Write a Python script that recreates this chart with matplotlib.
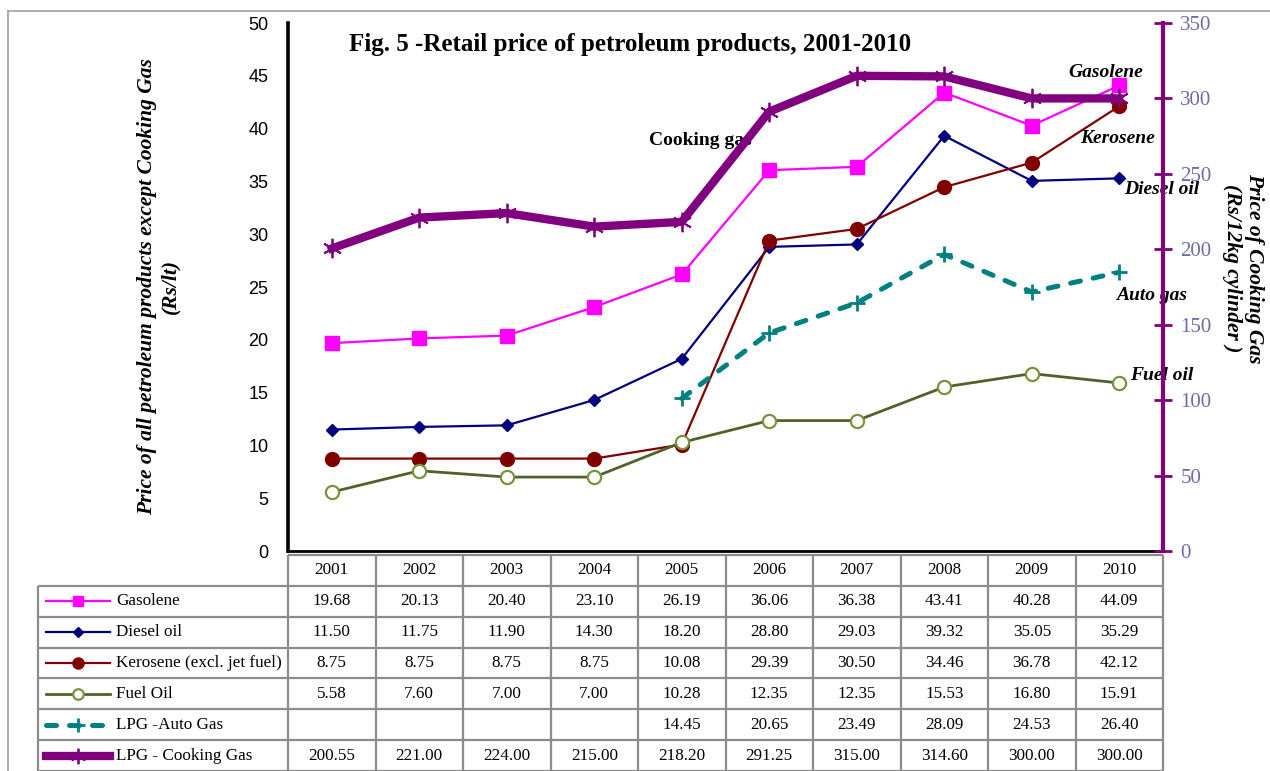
from matplotlib import pyplot as plt
from matplotlib.lines import Line2D
import numpy as np


# Retail prices 2001-2010 (Rs/lt, cooking gas in Rs/12kg cylinder)
years = ["2001", "2002", "2003", "2004", "2005",
         "2006", "2007", "2008", "2009", "2010"]
gasolene = [19.68, 20.13, 20.40, 23.10, 26.19, 36.06, 36.38, 43.41, 40.28, 44.09]
diesel = [11.50, 11.75, 11.90, 14.30, 18.20, 28.80, 29.03, 39.32, 35.05, 35.29]
kerosene = [8.75, 8.75, 8.75, 8.75, 10.08, 29.39, 30.50, 34.46, 36.78, 42.12]
fuel_oil = [5.58, 7.60, 7.00, 7.00, 10.28, 12.35, 12.35, 15.53, 16.80, 15.91]
auto_gas = [None, None, None, None, 14.45, 20.65, 23.49, 28.09, 24.53, 26.40]
cooking_gas = [200.55, 221.00, 224.00, 215.00, 218.20,
               291.25, 315.00, 314.60, 300.00, 300.00]

series_names = ["Gasolene", "Diesel oil", "Kerosene (excl. jet fuel)",
                "Fuel Oil", "LPG -Auto Gas", "LPG - Cooking Gas"]

SERIF = "Liberation Serif"
SANS = "Liberation Sans"
W, H = 1270, 771

# line styles per series
styles = [
    dict(color="#FF00FF", lw=1.6, marker="s", ms=9.5, mfc="#FF00FF", mec="#FF00FF"),
    dict(color="#000080", lw=1.6, marker="D", ms=6.5, mfc="#000080", mec="#000080"),
    dict(color="#800000", lw=1.6, marker="o", ms=10, mfc="#800000", mec="#800000"),
    dict(color="#4F6228", lw=2.0, marker="o", ms=9.5, mfc="white", mec="#77933C",
         mew=1.6),
    dict(color="#008080", lw=3.6, marker="+", ms=12, mec="#008080", mew=2,
         ls=(0, (2.0, 2.6)), dash_capstyle="round"),
    dict(color="#800080", lw=6.0, marker=(6, 2, 0), ms=14, mec="#800080", mew=1.3),
]

fig = plt.figure(figsize=(W / 100, H / 100), dpi=100)

# chart area frame
fig.add_artist(Line2D([8 / W, 8 / W], [0, 1 - 11 / H], transform=fig.transFigure,
                      color="#a0a0a0", lw=1.2))
fig.add_artist(Line2D([8 / W, 1], [1 - 11 / H, 1 - 11 / H], transform=fig.transFigure,
                      color="#a0a0a0", lw=1.2))

ax = fig.add_axes([288 / W, 220 / H, 875 / W, 528 / H])
ax2 = ax.twinx()

x = np.arange(len(years))
left_series = [gasolene, diesel, kerosene, fuel_oil, auto_gas]
for vals, st in zip(left_series, styles[:5]):
    v = np.array([np.nan if a is None else a for a in vals], dtype=float)
    ax.plot(x, v, clip_on=False, **st)
ax2.plot(x, cooking_gas, clip_on=False, **styles[5])

ax.set_xlim(-0.5, len(years) - 0.5)
ax.set_ylim(0, 50)
ax2.set_ylim(0, 350)
ax.set_xticks([])
ax.set_yticks(np.arange(0, 51, 5))
ax2.set_yticks(np.arange(0, 351, 50))

for s in ["top", "right"]:
    ax.spines[s].set_visible(False)
for s in ["top", "left", "bottom"]:
    ax2.spines[s].set_visible(False)
ax.spines["left"].set_linewidth(2.6)
ax.spines["bottom"].set_linewidth(2.0)
ax2.spines["right"].set_color("#800080")
ax2.spines["right"].set_linewidth(3)

ax.tick_params(axis="y", length=0, pad=14, labelsize=13)
for t in ax.get_yticklabels():
    t.set_fontfamily(SANS)
ax2.tick_params(axis="y", direction="inout", length=13, width=2, color="#800080",
                pad=6, labelsize=15, labelcolor="#6B6BA8")
for t in ax2.get_yticklabels():
    t.set_fontfamily(SERIF)

# series annotations
bi = dict(family=SERIF, fontsize=14, fontweight="bold", style="italic",
          ha="center", va="center", clip_on=False)
ax.text(8.84, 45.3, "Gasolene", **bi)
ax.text(8.98, 39.1, "Kerosene", **bi)
ax.text(9.49, 34.2, "Diesel oil", **bi)
ax.text(9.37, 24.2, "Auto gas", **bi)
ax.text(9.48, 16.6, "Fuel oil", **bi)
ax.text(4.21, 38.9, "Cooking gas", family=SERIF, fontsize=14, fontweight="bold",
        ha="center", va="center", zorder=0)

fig.text(630 / W, 1 - 45 / H, "Fig. 5 -Retail price of petroleum products, 2001-2010",
         family=SERIF, fontsize=18, fontweight="bold", ha="center", va="center")
fig.text(159 / W, 1 - 287 / H,
         "Price of all petroleum products except Cooking Gas\n(Rs/lt)",
         family=SERIF, fontsize=15.5, fontweight="bold", style="italic",
         rotation=90, ha="center", va="center", multialignment="center",
         linespacing=1.2)
fig.text(1243 / W, 1 - 268 / H, "Price of Cooking Gas\n(Rs/12kg cylinder )",
         family=SERIF, fontsize=15.5, fontweight="bold", style="italic",
         rotation=270, ha="center", va="center", multialignment="center",
         linespacing=1.2)

# data table below the chart
tab = fig.add_axes([38 / W, 0, 1125 / W, 216 / H])
label_w = 250 / 87.5
ncol = len(years)
nrow = len(series_names) + 1
tab.set_xlim(-label_w, ncol)
tab.set_ylim(nrow, 0)
tab.axis("off")

grid = dict(color="#8C8C8C", lw=1.6, clip_on=False)
tab.hlines(0, 0, ncol, **grid)
tab.hlines(np.arange(1, nrow + 1), -label_w, ncol, **grid)
tab.vlines(np.arange(0, ncol + 1), 0, nrow, **grid)
tab.vlines(-label_w, 1, nrow, **grid)

cell = dict(family=SERIF, fontsize=12.3, ha="center", va="center")
for j, yr in enumerate(years):
    tab.text(j + 0.5, 0.5, yr, **cell)

table_rows = [gasolene, diesel, kerosene, fuel_oil, auto_gas, cooking_gas]
for i, (name, vals, st) in enumerate(zip(series_names, table_rows, styles)):
    r = i + 1.5
    for j, v in enumerate(vals):
        if v is not None:
            tab.text(j + 0.5, r, f"{v:.2f}", **cell)
    sample = dict(st)
    sample["ms"] = st["ms"] * 0.8
    tab.plot([(46 - 288) / 87.5, (78 - 288) / 87.5, (110 - 288) / 87.5], [r, r, r],
             markevery=[1], clip_on=False, **sample)
    tab.text((116 - 288) / 87.5, r, name, family=SERIF, fontsize=12.3,
             ha="left", va="center")

fig.savefig("out.png", dpi=100)
